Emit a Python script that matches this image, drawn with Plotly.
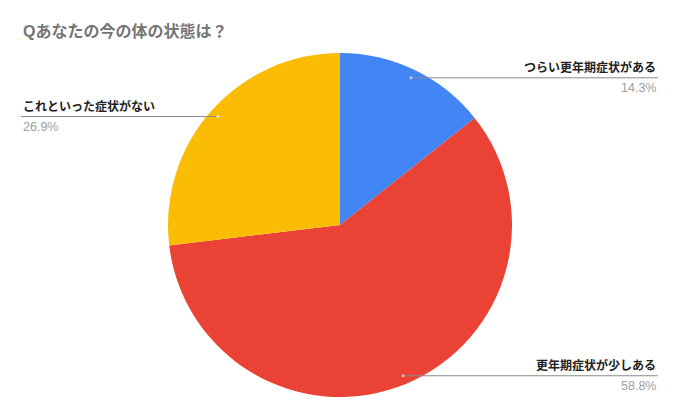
import math
import plotly.graph_objects as go

title = "Qあなたの今の体の状態は？"
labels = ["つらい更年期症状がある", "更年期症状が少しある", "これといった症状がない"]
values = [14.3, 58.8, 26.9]
colors = ["#4285F4", "#EA4335", "#FBBC04"]

W, H = 680, 420
cx, cy, R = 340, 225, 172  # pixel geometry of pie

fig = go.Figure()
fig.add_trace(go.Pie(
    labels=labels, values=values, sort=False, direction="clockwise", rotation=0,
    marker=dict(colors=colors, line=dict(width=0)),
    textinfo="none", hoverinfo="skip", showlegend=False,
    domain=dict(x=[(cx - R) / W, (cx + R) / W], y=[(H - cy - R) / H, (H - cy + R) / H]),
))

font_family = "Liberation Sans, Noto Sans CJK JP, Arial, sans-serif"
annotations = [dict(text=f"<b>{title}</b>", x=21 / W, y=1 - 31 / H, xref="paper", yref="paper",
                    xanchor="left", yanchor="middle", showarrow=False,
                    font=dict(size=16, color="#757575", family=font_family))]
shapes = []
total = sum(values)
cum = 0
for lab, v in zip(labels, values):
    th = 2 * math.pi * (cum + v / 2) / total
    cum += v
    dx = cx + 0.95 * R * math.sin(th)
    dy = cy - 0.95 * R * math.cos(th)
    right = math.sin(th) > 0
    x0, x1 = (dx, 658) if right else (21, dx)
    py = 1 - dy / H
    shapes.append(dict(type="line", xref="paper", yref="paper", x0=x0 / W, x1=x1 / W, y0=py, y1=py,
                       line=dict(color="#8a8a8a", width=1)))
    shapes.append(dict(type="circle", xref="paper", yref="paper", xsizemode="pixel", ysizemode="pixel",
                       xanchor=dx / W, yanchor=py, x0=-1.5, x1=1.5, y0=-1.5, y1=1.5,
                       fillcolor="rgba(255,255,255,0.6)", line=dict(width=0)))
    tx = (658 if right else 21) / W
    xa = "right" if right else "left"
    annotations.append(dict(text=f"<b>{lab}</b>", x=tx, y=py, xref="paper", yref="paper",
                            xanchor=xa, yanchor="bottom", yshift=1, showarrow=False,
                            font=dict(size=12, color="#222222", family=font_family)))
    annotations.append(dict(text=f"{v:.1f}%", x=tx, y=py, xref="paper", yref="paper",
                            xanchor=xa, yanchor="top", yshift=-1, showarrow=False,
                            font=dict(size=12.5, color="#9e9e9e", family=font_family)))

fig.update_layout(width=W, height=H, margin=dict(l=0, r=0, t=0, b=0),
                  paper_bgcolor="white", plot_bgcolor="white",
                  annotations=annotations, shapes=shapes)
fig.write_html("out.html", config={"displayModeBar": False},
               post_script="document.body.style.margin='0';document.body.style.overflow='hidden';")
